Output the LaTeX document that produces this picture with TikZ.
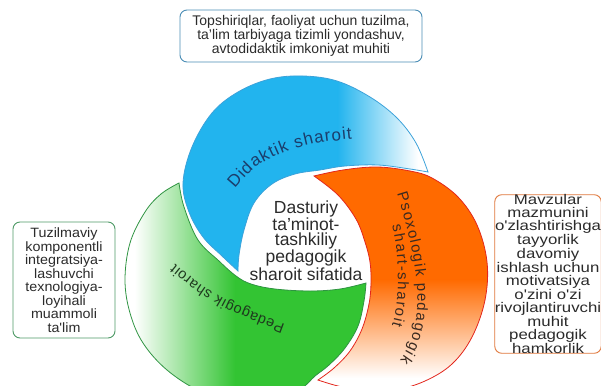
\documentclass[tikz,border=0pt]{standalone}
\usepackage{fontspec}
\setmainfont{Liberation Sans}
\newfontfamily\widefont[FakeStretch=1.2]{Liberation Sans}
\newfontfamily\semiwide[FakeStretch=1.06]{Liberation Sans}
\usetikzlibrary{decorations.text}
\definecolor{cblue}{HTML}{22B4EE}
\definecolor{bline}{HTML}{3CA2DA}
\definecolor{cgreen}{HTML}{33C433}
\definecolor{gline}{HTML}{2F9442}
\definecolor{corange}{HTML}{FF6A00}
\definecolor{oline}{HTML}{E3261C}
\definecolor{tborder}{HTML}{4A8DB5}
\definecolor{lborder}{HTML}{4E9A66}
\definecolor{rborder}{HTML}{E0773A}
\definecolor{textgray}{HTML}{2B2B2B}
\definecolor{didc}{HTML}{1B3D6B}
\definecolor{pedc}{HTML}{1E3A1E}
\definecolor{psoc}{HTML}{3B2A20}
\newcommand\bluecrescent{plot[smooth,tension=0.6] coordinates {(238,271) (222,256) (203,237) (189,212) (183,183) (192,147) (212,113) (238,92) (270,79) (303,76) (337,81) (370,97) (397,118) (416,143) (428,172)} -- plot[smooth,tension=0.6] coordinates {(428,172) (410,169) (378,165) (345,166) (320,170) (295,174) (272,184) (254,203) (244,230) (239,255) (238,271)} -- cycle}
\newcommand\orangecrescent{plot[smooth,tension=0.6] coordinates {(314,176) (343,170) (377,167) (410,171) (432,178) (458,197) (477,225) (487,262) (485,300) (472,337) (452,364) (425,381) (395,390) (365,391) (338,386) (318,380)} -- plot[smooth,tension=0.6] coordinates {(318,380) (334,368) (350,351) (362,329) (369,304) (371,283) (370,262) (365,242) (356,219) (338,195) (314,176)} -- cycle}
\newcommand\greencrescent{plot[smooth,tension=0.6] coordinates {(366,283) (364,301) (358,326) (345,348) (329,365) (315,376) (300,389) (270,398) (235,399) (200,391) (167,370) (143,343) (130,313) (125,280) (130,243) (145,212) (161,194) (179,183)} -- plot[smooth,tension=0.6] coordinates {(179,183) (184,207) (198,240) (219,261) (236,276) (251,284) (275,289) (310,291) (340,289) (366,283)} -- cycle}
\begin{document}
\begin{tikzpicture}[x=1pt,y=-1pt,
  infobox/.style={draw, rounded corners=7pt, line width=0.9pt, fill=white, align=center, inner sep=0pt, text=textgray},
  rim/.style={line width=0.8pt}]
\useasboundingbox (0,0) rectangle (601,385);
% green crescent
\begin{scope}
\clip \greencrescent;
\fill[white] (110,170) rectangle (135,405);
\shade[left color=white, right color=cgreen] (134.5,170) rectangle (235,405);
\fill[cgreen] (234.5,170) rectangle (380,405);
\end{scope}
\draw[rim, gline] \greencrescent;
% orange crescent
\begin{scope}
\clip \orangecrescent;
\fill[corange] (300,160) rectangle (500,280);
\shade[top color=corange, bottom color=white] (300,279.5) rectangle (500,378);
\fill[white] (300,377.5) rectangle (500,400);
\end{scope}
\draw[rim, oline] \orangecrescent;
% blue crescent
\begin{scope}
\clip \bluecrescent;
\fill[cblue] (170,60) rectangle (338,290);
\shade[left color=cblue, right color=white] (337.5,60) rectangle (418,290);
\fill[white] (417.5,60) rectangle (440,290);
\end{scope}
\draw[rim, bline] \bluecrescent;
% labels on crescents
\path[decorate, decoration={text along path, text align={fit to path}, text={|\fontsize{17}{17}\selectfont\color{didc}|Didaktik sharoit}}] plot[smooth] coordinates {(235,189) (256,167) (285,152) (318,143) (352,139)};
\path[decorate, decoration={text along path, text align={fit to path}, text={|\fontsize{14.5}{14.5}\selectfont\color{pedc}|Pedagogik sharoit}}] plot[smooth] coordinates {(285,324) (256,313) (226,300) (199,283) (175,264)};
\path[decorate, decoration={text along path, text align={fit to path}, text={|\fontsize{15}{15}\selectfont\color{psoc}|Psoxologik pedagogik}}] (397,194) .. controls (413,245) and (432,320) .. (400,360);
\path[decorate, decoration={text along path, text align={fit to path}, text={|\fontsize{15}{15}\selectfont\color{psoc}|shart-sharoit}}] (392,226) .. controls (400,255) and (400,300) .. (392,326);
% centre text
\node[font=\fontsize{17.5}{15}\selectfont, text=textgray, align=center, inner sep=0pt] (core) at (306,240.5) {Dasturiy\\ta'minot-\\tashkiliy\\pedagogik\\sharoit sifatida};
% info boxes
\node[infobox, draw=tborder, minimum width=242pt, minimum height=52pt, font=\fontsize{14}{12.6}\selectfont] (topbox) at (301,36) {Topshiriqlar, faoliyat uchun tuzilma,\\ta'lim tarbiyaga tizimli yondashuv,\\avtodidaktik imkoniyat muhiti};
\node[infobox, draw=lborder, minimum width=102pt, minimum height=116pt, font=\semiwide\fontsize{13.5}{13.5}\selectfont] (leftbox) at (64,280) {Tuzilmaviy\\komponentli\\integratsiya-\\lashuvchi\\texnologiya-\\loyihali\\muammoli\\ta'lim};
\node[infobox, draw=rborder, minimum width=106pt, minimum height=158pt, font=\widefont\fontsize{14}{12.8}\selectfont] (rightbox) at (548,274) {Mavzular\\mazmunini\\o'zlashtirishga\\tayyorlik\\davomiy\\ishlash uchun\\motivatsiya\\o'zini o'zi\\rivojlantiruvchi\\muhit\\pedagogik\\hamkorlik};
\end{tikzpicture}
\end{document}
